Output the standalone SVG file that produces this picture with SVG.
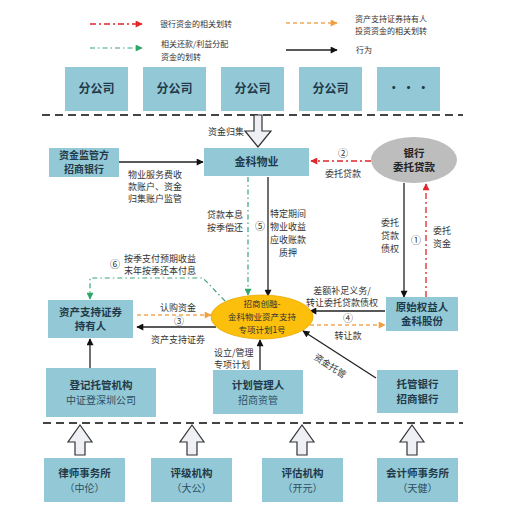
<svg xmlns="http://www.w3.org/2000/svg" width="510" height="510" viewBox="0 0 510 510">
<style>
text{font-family:"Noto Sans CJK SC","Liberation Sans",sans-serif;}
.box{fill:#93c9d6;}
.t{fill:#22394a;font-weight:bold;text-anchor:middle;}
.s{fill:#2e4d63;text-anchor:middle;}
.lab{fill:#333;font-size:9px;}
.leg{fill:#333;font-size:8px;}
.blk{stroke:#222;stroke-width:1.3;fill:none;}
.red{stroke:#e0262b;stroke-width:1.3;fill:none;stroke-dasharray:6 3 2 3;}
.grn{stroke:#3aa37a;stroke-width:1.2;fill:none;stroke-dasharray:5 3 1.5 3;}
.org{stroke:#f0a85a;stroke-width:1.3;fill:none;stroke-dasharray:4 3;}
.hol{fill:#eef0f6;stroke:#333;stroke-width:1.2;}
.sep{stroke:#444;stroke-width:2;stroke-dasharray:8 5;}
</style>
<defs>
<marker id="ab" viewBox="0 0 10 10" refX="9" refY="5" markerWidth="8" markerHeight="7" markerUnits="userSpaceOnUse" orient="auto"><path d="M0,0 L10,5 L0,10 z" fill="#111"/></marker>
<marker id="ar" viewBox="0 0 10 10" refX="9" refY="5" markerWidth="8" markerHeight="7" markerUnits="userSpaceOnUse" orient="auto"><path d="M0,0 L10,5 L0,10 z" fill="#e0262b"/></marker>
<marker id="ag" viewBox="0 0 10 10" refX="9" refY="5" markerWidth="8" markerHeight="7" markerUnits="userSpaceOnUse" orient="auto"><path d="M0,0 L10,5 L0,10 z" fill="#2ea86a"/></marker>
<marker id="ao" viewBox="0 0 10 10" refX="9" refY="5" markerWidth="8" markerHeight="7" markerUnits="userSpaceOnUse" orient="auto"><path d="M0,0 L10,5 L0,10 z" fill="#f0a040"/></marker>
</defs>
<rect width="510" height="510" fill="#fff"/>

<g id="legend">
<line class="red" x1="90" y1="24" x2="142" y2="24" marker-end="url(#ar)"/>
<text class="leg" x="160" y="27">银行资金的相关划转</text>
<line class="grn" x1="90" y1="48" x2="142" y2="48" marker-end="url(#ag)"/>
<text class="leg" x="161" y="47">相关还款/利益分配</text>
<text class="leg" x="161" y="60">资金的划转</text>
<line class="org" x1="286" y1="23" x2="337" y2="23" marker-end="url(#ao)"/>
<text class="leg" x="355" y="22">资产支持证券持有人</text>
<text class="leg" x="355" y="34">投资资金的相关划转</text>
<line class="blk" x1="286" y1="50" x2="337" y2="50" marker-end="url(#ab)"/>
<text class="leg" x="356" y="53">行为</text>
</g>

<g id="branches">
<rect class="box" x="65" y="67" width="63" height="44"/><text class="t" x="96.5" y="93" font-size="12">分公司</text>
<rect class="box" x="143" y="67" width="63" height="44"/><text class="t" x="174.5" y="93" font-size="12">分公司</text>
<rect class="box" x="221" y="67" width="63" height="44"/><text class="t" x="252.5" y="93" font-size="12">分公司</text>
<rect class="box" x="299" y="67" width="63" height="44"/><text class="t" x="330.5" y="93" font-size="12">分公司</text>
<rect class="box" x="377" y="67" width="63" height="44"/><text class="t" x="408.5" y="93" font-size="12">· · ·</text>
</g>

<line class="sep" x1="42" y1="115" x2="463" y2="115"/>
<line class="sep" x1="43" y1="423" x2="463" y2="423"/>

<g id="connectors">
<polygon class="hol" points="254,115 262,115 262,131 271,131 258,147 245,131 254,131"/>
<text class="lab" x="208" y="135">资金归集</text>
<line class="blk" x1="119" y1="162" x2="203" y2="162" marker-end="url(#ab)"/>
<line class="red" x1="371" y1="161" x2="311" y2="161" marker-end="url(#ar)"/>
<line class="grn" x1="248" y1="177" x2="248" y2="295" marker-end="url(#ag)"/>
<line class="blk" x1="268" y1="177" x2="268" y2="296" marker-end="url(#ab)"/>
<line class="blk" x1="404" y1="183" x2="404" y2="297" marker-end="url(#ab)"/>
<line class="red" x1="426" y1="297" x2="426" y2="184" marker-end="url(#ar)"/>
<path class="grn" d="M225,301 L203,278 L90,278 L90,299" marker-end="url(#ag)"/>
<line class="org" x1="137" y1="315" x2="211" y2="315" marker-end="url(#ao)"/>
<line class="blk" x1="216" y1="327" x2="137" y2="327" marker-end="url(#ab)"/>
<line class="blk" x1="385" y1="311" x2="310" y2="311" marker-end="url(#ab)"/>
<line class="org" x1="310" y1="325" x2="385" y2="325" marker-end="url(#ao)"/>
<line class="blk" x1="376" y1="378" x2="303" y2="331" marker-end="url(#ab)"/>
<line class="blk" x1="90" y1="368" x2="90" y2="339" marker-end="url(#ab)"/>
<line class="blk" x1="260" y1="370" x2="260" y2="340" marker-end="url(#ab)"/>
<polygon class="hol" points="80,425 92,442 85,442 85,455 75,455 75,442 68,442"/>
<polygon class="hol" points="192,425 204,442 197,442 197,455 187,455 187,442 180,442"/>
<polygon class="hol" points="302,425 314,442 307,442 307,455 297,455 297,442 290,442"/>
<polygon class="hol" points="412,425 424,442 417,442 417,455 407,455 407,442 400,442"/>

<g class="lab" text-anchor="middle">
<text x="155" y="178">物业服务费收</text>
<text x="155" y="190">款账户、资金</text>
<text x="155" y="202">归集账户监管</text>
<text x="343" y="157" font-size="10">②</text>
<text x="343" y="177">委托贷款</text>
<text x="225" y="218">贷款本息</text>
<text x="225" y="231">按季偿还</text>
<text x="260" y="230" font-size="10">⑤</text>
<text x="288" y="217">特定期间</text>
<text x="288" y="230">物业收益</text>
<text x="288" y="243">应收账款</text>
<text x="288" y="256">质押</text>
<text x="390" y="226">委托</text>
<text x="390" y="239">贷款</text>
<text x="390" y="252">债权</text>
<text x="416" y="244" font-size="10">①</text>
<text x="442" y="234">委托</text>
<text x="442" y="247">资金</text>
<text x="115" y="268" font-size="10">⑥</text>
<text x="178" y="311">认购资金</text>
<text x="179" y="325" font-size="10">③</text>
<text x="178" y="343">资产支持证券</text>
<text x="342" y="294">差额补足义务/</text>
<text x="342" y="306">转让委托贷款债权</text>
<text x="348" y="322" font-size="10">④</text>
<text x="348" y="339">转让款</text>
<text x="330" y="369" transform="rotate(33 330 366)">资金托管</text>
</g>
<text class="lab" x="124" y="262">按季支付预期收益</text>
<text class="lab" x="124" y="274">末年按季还本付息</text>
<text class="lab" x="214" y="356">设立/管理</text>
<text class="lab" x="214" y="368">专项计划</text>
</g>

<g id="n-jianguan"><rect class="box" x="49" y="148" width="70" height="29"/><text class="t" x="84" y="159" font-size="10">资金监管方</text><text class="t" x="84" y="173" font-size="10">招商银行</text></g>
<g id="n-jinke"><rect class="box" x="204" y="148" width="105" height="28"/><text class="t" x="256.5" y="166" font-size="11">金科物业</text></g>
<g id="n-bank"><ellipse cx="414" cy="160" rx="43" ry="23" fill="#bdbdbd"/><text class="t" x="414" y="157" font-size="10.5" style="fill:#222">银行</text><text class="t" x="414" y="171" font-size="10.5" style="fill:#222">委托贷款</text></g>
<g id="n-plan"><ellipse cx="262" cy="317" rx="51" ry="22" fill="#fbbf0c" stroke="#e8a800" stroke-width="0.8"/><text x="262" y="307" font-size="8.5" text-anchor="middle" fill="#333">招商创融-</text><text x="262" y="320" font-size="8.5" text-anchor="middle" fill="#333">金科物业资产支持</text><text x="262" y="333" font-size="8.5" text-anchor="middle" fill="#333">专项计划1号</text></g>
<g id="n-holder"><rect class="box" x="48" y="300" width="85" height="38"/><text class="t" x="90.5" y="316" font-size="10.5">资产支持证券</text><text class="t" x="90.5" y="330" font-size="10.5">持有人</text></g>
<g id="n-origin"><rect class="box" x="386" y="297" width="72" height="34"/><text class="t" x="422" y="311" font-size="10.5">原始权益人</text><text class="t" x="422" y="325" font-size="10.5">金科股份</text></g>
<g id="n-register"><rect class="box" x="46" y="368" width="110" height="49"/><text class="t" x="101" y="389" font-size="10.5">登记托管机构</text><text class="s" x="101" y="404" font-size="10">中证登深圳公司</text></g>
<g id="n-manager"><rect class="box" x="213" y="370" width="90" height="44"/><text class="t" x="258" y="389" font-size="10.5">计划管理人</text><text class="s" x="258" y="404" font-size="10">招商资管</text></g>
<g id="n-custody"><rect class="box" x="377" y="370" width="81" height="43"/><text class="t" x="417.5" y="388" font-size="10.5">托管银行</text><text class="t" x="417.5" y="403" font-size="10.5">招商银行</text></g>
<g id="n-law"><rect class="box" x="44" y="458" width="81" height="44"/><text class="t" x="84.5" y="477" font-size="10.5">律师事务所</text><text class="s" x="84.5" y="492" font-size="10">（中伦）</text></g>
<g id="n-rating"><rect class="box" x="151" y="458" width="81" height="44"/><text class="t" x="191.5" y="477" font-size="10.5">评级机构</text><text class="s" x="191.5" y="492" font-size="10">（大公）</text></g>
<g id="n-appraisal"><rect class="box" x="262" y="458" width="81" height="44"/><text class="t" x="302.5" y="477" font-size="10.5">评估机构</text><text class="s" x="302.5" y="492" font-size="10">（开元）</text></g>
<g id="n-account"><rect class="box" x="377" y="458" width="81" height="44"/><text class="t" x="417.5" y="477" font-size="10.5">会计师事务所</text><text class="s" x="417.5" y="492" font-size="10">（天健）</text></g>
</svg>
